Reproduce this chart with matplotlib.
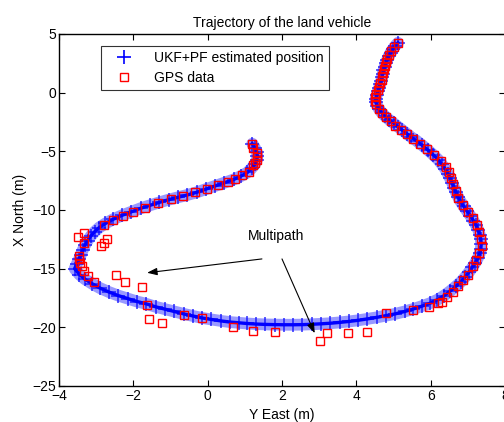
import matplotlib
matplotlib.use("Agg")
import matplotlib.pyplot as plt

plt.rcParams['font.family'] = ['Liberation Sans', 'DejaVu Sans']

# UKF+PF estimated trajectory (East, North) in metres
est_east = [5.12, 5.05, 4.98, 4.92, 4.87, 4.83, 4.79, 4.76, 4.73, 4.71, 4.69, 4.67, 4.64, 4.61, 4.58,
            4.55, 4.52, 4.52, 4.56, 4.61, 4.68, 4.77, 4.88, 5.00, 5.12, 5.24, 5.36, 5.48, 5.62, 5.78,
            5.93, 6.07, 6.20, 6.30, 6.39, 6.46, 6.52, 6.58, 6.63, 6.68, 6.74, 6.81, 6.89, 6.98, 7.07,
            7.15, 7.22, 7.28, 7.32, 7.35, 7.36, 7.35, 7.32, 7.27, 7.20, 7.12, 7.03, 6.93, 6.82, 6.68,
            6.53, 6.36, 6.18, 5.98, 5.76, 5.52, 5.30, 5.05, 4.80, 4.55, 4.30, 4.05, 3.80, 3.55, 3.30,
            3.05, 2.80, 2.55, 2.30, 2.05, 1.80, 1.55, 1.30, 1.05, 0.85, 0.60, 0.35, 0.10, -0.15, -0.40,
            -0.65, -0.90, -1.15, -1.40, -1.65, -1.90, -2.15, -2.40, -2.65, -2.90, -3.10, -3.30, -3.45, -3.58,
            -3.52, -3.46, -3.41, -3.36, -3.30, -3.23, -3.14, -3.04, -2.92, -2.75, -2.55, -2.30, -2.05, -1.80,
            -1.55, -1.30, -1.05, -0.80, -0.55, -0.30, -0.05, 0.20, 0.45, 0.70, 0.90, 1.07, 1.18, 1.27,
            1.32, 1.34, 1.32, 1.27, 1.20]
est_north = [4.25, 4.00, 3.70, 3.40, 3.10, 2.80, 2.50, 2.20, 1.90, 1.60, 1.30, 1.00, 0.70, 0.40, 0.10,
             -0.20, -0.50, -0.80, -1.10, -1.40, -1.70, -2.00, -2.30, -2.60, -2.90, -3.20, -3.50, -3.80, -4.10, -4.50,
             -4.90, -5.30, -5.70, -6.10, -6.50, -6.90, -7.30, -7.70, -8.10, -8.50, -8.90, -9.30, -9.70, -10.10, -10.50,
             -10.90, -11.30, -11.70, -12.10, -12.50, -12.90, -13.30, -13.70, -14.10, -14.50, -14.90, -15.30, -15.70, -16.10, -16.50,
             -16.90, -17.30, -17.65, -17.95, -18.20, -18.45, -18.65, -18.85, -19.00, -19.15, -19.28, -19.40, -19.50, -19.58, -19.65,
             -19.70, -19.74, -19.77, -19.78, -19.78, -19.77, -19.75, -19.72, -19.67, -19.62, -19.55, -19.45, -19.33, -19.20, -19.03,
             -18.85, -18.65, -18.45, -18.25, -18.00, -17.80, -17.55, -17.30, -17.00, -16.65, -16.30, -15.90, -15.50, -15.00,
             -14.60, -14.20, -13.80, -13.40, -13.00, -12.60, -12.20, -11.85, -11.50, -11.15, -10.80, -10.45, -10.15, -9.85,
             -9.60, -9.35, -9.12, -8.92, -8.72, -8.50, -8.22, -7.95, -7.68, -7.40, -7.10, -6.80, -6.45, -6.10,
             -5.75, -5.40, -5.05, -4.70, -4.35]

# GPS data (East, North) in metres
gps_east = [5.12, 5.02, 4.93, 4.87, 4.83, 4.79, 4.76, 4.74, 4.72, 4.70, 4.68, 4.65, 4.62, 4.58, 4.54,
            4.50, 4.50, 4.54, 4.60, 4.68, 4.80, 4.92, 5.05, 5.20, 5.35, 5.52, 5.70, 5.90, 6.10, 6.28,
            6.40, 6.48, 6.55, 6.60, 6.67, 6.74, 6.86, 7.00, 7.13, 7.24, 7.30, 7.35, 7.38, 7.30, 7.23,
            7.13, 7.00, 6.86, 6.73, 6.59, 6.43, 6.30, 6.19, 5.95, 5.52, 4.79,
            4.28, 3.77, 3.20, 3.02, 1.81, 1.22, 0.68, -0.16, -0.64, -1.23, -1.58, -1.63, -1.77, -2.23,
            -2.47, -3.06, -3.22, -3.33, -3.38, -3.43, -3.46, -3.46, -2.87, -2.79, -2.71, -3.33, -3.49, -3.33,
            -2.79, -2.55, -2.28, -2.00, -1.69, -1.34, -0.99, -0.67, -0.34, -0.02, 0.27, 0.54, 0.73, 0.92,
            1.11, 1.22, 1.27, 1.32, 1.32, 1.32, 1.22, 1.19]
gps_north = [4.20, 3.90, 3.55, 3.20, 2.90, 2.60, 2.30, 2.00, 1.70, 1.40, 1.10, 0.80, 0.50, 0.20, -0.10,
             -0.40, -0.70, -1.00, -1.35, -1.70, -2.10, -2.45, -2.80, -3.15, -3.55, -3.95, -4.35, -4.80, -5.30, -5.80,
             -6.30, -6.80, -7.30, -7.80, -8.40, -9.00, -9.60, -10.20, -10.70, -11.30, -11.90, -12.50, -13.10, -13.70, -14.30,
             -14.80, -15.50, -16.00, -16.50, -17.00, -17.45, -17.85, -17.90, -18.30, -18.50, -18.77,
             -20.38, -20.47, -20.50, -21.15, -20.40, -20.30, -20.00, -19.20, -18.95, -19.60, -19.30, -18.10, -16.60, -16.10,
             -15.55, -16.10, -15.60, -15.20, -14.80, -14.50, -14.20, -13.90, -13.10, -12.80, -12.50, -12.80, -12.30, -11.95,
             -11.30, -10.85, -10.50, -10.20, -9.80, -9.40, -9.05, -8.80, -8.50, -8.20, -7.88, -7.60, -7.40, -7.00,
             -6.75, -6.20, -6.00, -5.70, -5.45, -5.10, -4.70, -4.40]

xticks = [-4, -2, 0, 2, 4, 6, 8]
yticks = [-25, -20, -15, -10, -5, 0, 5]

FS = 10

fig = plt.figure(figsize=(5.04, 4.22), dpi=100)
ax = fig.add_axes([59/504, 1 - 386/422, 446/504, 352/422])

# band of overlapping estimate crosses
ax.plot(est_east, est_north, '-', color='b', lw=8.5, alpha=0.4, solid_capstyle='round',
        solid_joinstyle='round', zorder=1)
ax.plot(est_east, est_north, '-', color='b', lw=2.4, zorder=2)
ax.plot(est_east, est_north, '+', color='b', ms=9.5, mew=1.2, alpha=0.75,
        label='UKF+PF estimated position', zorder=2)
ax.plot(gps_east, gps_north, 's', mfc='none', mec='r', ms=5.6, mew=1.0,
        label='GPS data', zorder=3)

ax.set_xlim(-4, 8)
ax.set_ylim(-25, 5)
ax.set_xticks(xticks)
ax.set_yticks(yticks)
ax.set_xticklabels(['\u2212' + str(-t) if t < 0 else str(t) for t in xticks])
ax.set_yticklabels(['\u2212' + str(-t) if t < 0 else str(t) for t in yticks])
ax.tick_params(direction='in', length=4, width=0.8, top=True, right=True, labelsize=FS, pad=2)
for s in ax.spines.values():
    s.set_linewidth(1.0)

ax.set_title('Trajectory of the land vehicle', fontsize=FS, pad=5)
ax.set_xlabel('Y East (m)', fontsize=FS, labelpad=4)
ax.set_ylabel('X North (m)', fontsize=FS, labelpad=4)

ax.text(1.08, -12.2, 'Multipath', fontsize=FS, ha='left', va='center')
arrow = dict(arrowstyle='-|>,head_length=0.6,head_width=0.22', color='k', lw=0.8,
             shrinkA=0, shrinkB=0)
ax.annotate('', xy=(-1.63, -15.35), xytext=(1.46, -14.17), arrowprops=arrow)
ax.annotate('', xy=(2.88, -20.5), xytext=(2.0, -14.17), arrowprops=arrow)

leg = ax.legend(loc='upper left', bbox_to_anchor=(42/446, 1 - 12/352), fontsize=FS,
                frameon=True, fancybox=False, edgecolor='k', borderpad=0.35,
                handlelength=2.6, handletextpad=0.9, labelspacing=0.45, borderaxespad=0)
leg.get_frame().set_linewidth(0.8)
for h in leg.legend_handles:
    h.set_alpha(1)

fig.savefig('out.png', dpi=100)
